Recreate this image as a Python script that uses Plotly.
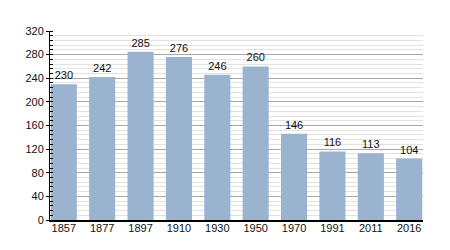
import plotly.graph_objects as go

years = ["1857", "1877", "1897", "1910", "1930", "1950", "1970", "1991", "2011", "2016"]
population = [230, 242, 285, 276, 246, 260, 146, 116, 113, 104]
y_ticks = [0, 40, 80, 120, 160, 200, 240, 280, 320]

fig = go.Figure(go.Bar(
    x=years, y=population,
    marker=dict(color="#9ab3cf", line=dict(width=0)),
    text=[str(v) for v in population],
    textposition="outside",
    textfont=dict(size=11, color="#111", family="Liberation Sans, Arial, sans-serif"),
    cliponaxis=False,
))

fig.update_layout(
    width=450, height=250,
    margin=dict(l=50, r=27, t=31, b=30),
    plot_bgcolor="white", paper_bgcolor="white",
    bargap=0.32,
    showlegend=False,
    font=dict(family="Liberation Sans, Arial, sans-serif", size=11, color="#111"),
)
fig.update_xaxes(
    type="category", range=[-0.36, 9.36],
    showgrid=False, showline=True, linecolor="black", linewidth=1.5,
    ticks="", tickfont=dict(size=11), ticklabelstandoff=-3,
)
fig.update_yaxes(
    range=[0, 320], tickvals=y_ticks,
    showgrid=True, gridcolor="#a8a8a8", gridwidth=1,
    showline=True, linecolor="black", linewidth=1,
    ticks="outside", ticklen=3, tickcolor="black",
    minor=dict(dtick=8, showgrid=True, gridcolor="#e2e2e2", gridwidth=1,
               ticks="inside", ticklen=3, tickcolor="black"),
    zeroline=False, tickfont=dict(size=11),
)

fig.write_html("out.html")
